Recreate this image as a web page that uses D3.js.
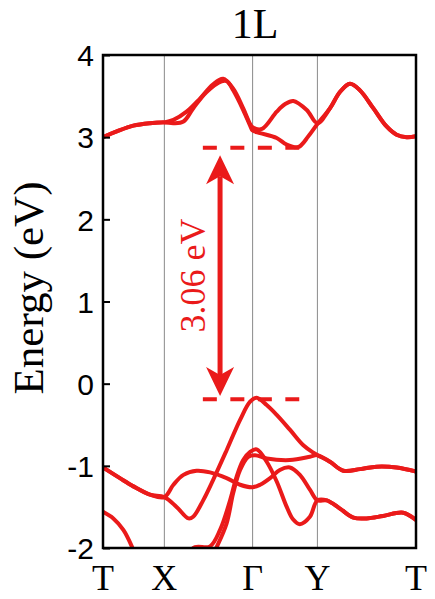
<!DOCTYPE html>
<html>
<head>
<meta charset="utf-8">
<script src="https://cdn.jsdelivr.net/npm/d3@7"></script>
<style>
  html, body { margin: 0; padding: 0; background: #fff; }
  svg { display: block; }
</style>
</head>
<body>
<svg id="chart" width="435" height="599"></svg>
<script>
// ---------------- data ----------------
const title = "1L";
const kPoints = [0, 0.196, 0.478, 0.685, 1];
const kLabels = ["T", "X", "Γ", "Y", "T"];
const yTicks = [-2, -1, 0, 1, 2, 3, 4];
const yTickLabels = ["-2", "-1", "0", "1", "2", "3", "4"];
const yLabel = "Energy (eV)";

// conduction bands  [k, E]
const cbA = [[0,3.00],[0.044,3.07],[0.097,3.14],[0.150,3.17],[0.196,3.18],[0.225,3.17],[0.257,3.19],
  [0.288,3.35],[0.331,3.55],[0.379,3.68],[0.396,3.68],[0.416,3.57],[0.448,3.33],[0.470,3.14],[0.478,3.08],
  [0.502,3.05],[0.555,2.99],[0.587,2.91],[0.624,2.88],[0.656,3.01],[0.685,3.16],
  [0.725,3.35],[0.757,3.55],[0.789,3.65],[0.821,3.57],[0.864,3.35],[0.906,3.13],[0.938,3.03],[0.970,3.00],[1,3.01]];
const cbB = [[0,3.00],[0.044,3.07],[0.097,3.14],[0.150,3.17],[0.196,3.18],[0.225,3.21],[0.267,3.31],
  [0.310,3.47],[0.351,3.64],[0.384,3.71],[0.416,3.59],[0.448,3.35],[0.470,3.16],[0.478,3.12],
  [0.508,3.10],[0.555,3.31],[0.581,3.40],[0.608,3.44],[0.651,3.33],[0.685,3.17],
  [0.725,3.35],[0.757,3.55],[0.789,3.65],[0.821,3.57],[0.864,3.35],[0.906,3.13],[0.938,3.03],[0.970,3.00],[1,3.01]];

// valence bands [k, E]
const vb1 = [[0,-1.02],[0.054,-1.15],[0.097,-1.25],[0.150,-1.35],[0.196,-1.38],[0.235,-1.50],[0.273,-1.64],
  [0.288,-1.62],[0.320,-1.42],[0.352,-1.17],[0.395,-0.81],[0.438,-0.44],[0.470,-0.22],[0.491,-0.17],
  [0.523,-0.26],[0.555,-0.38],[0.597,-0.56],[0.640,-0.75],[0.672,-0.84],[0.685,-0.87],
  [0.725,-0.95],[0.768,-1.06],[0.821,-1.04],[0.874,-1.01],[0.938,-1.02],[1,-1.07]];
const vb2 = [[0,-1.02],[0.054,-1.15],[0.097,-1.25],[0.150,-1.35],[0.196,-1.38],[0.225,-1.23],[0.257,-1.11],
  [0.299,-1.06],[0.342,-1.08],[0.395,-1.15],[0.438,-1.23],[0.478,-1.26],[0.502,-1.23],[0.534,-1.15],
  [0.565,-1.05],[0.597,-1.02],[0.629,-1.11],[0.661,-1.29],[0.685,-1.42],[0.715,-1.42],[0.757,-1.52],
  [0.800,-1.63],[0.842,-1.64],[0.895,-1.61],[0.959,-1.57],[1,-1.66]];
const vb3 = [[0.262,-2.10],[0.294,-1.99],[0.342,-1.98],[0.374,-1.78],[0.406,-1.42],[0.427,-1.13],
  [0.448,-0.93],[0.470,-0.83],[0.491,-0.80],[0.523,-0.95],[0.555,-1.19],[0.587,-1.50],[0.607,-1.65],
  [0.629,-1.71],[0.661,-1.62],[0.685,-1.42],[0.715,-1.42],[0.757,-1.52],[0.800,-1.63],[0.842,-1.64],
  [0.895,-1.61],[0.959,-1.57],[1,-1.66]];
const vb4 = [[0.342,-2.15],[0.363,-1.99],[0.395,-1.70],[0.416,-1.33],[0.438,-1.05],[0.464,-0.89],
  [0.486,-0.87],[0.523,-0.91],[0.597,-0.93],[0.661,-0.89],[0.685,-0.87],
  [0.725,-0.95],[0.768,-1.06],[0.821,-1.04],[0.874,-1.01],[0.938,-1.02],[1,-1.07]];
const vb5 = [[0,-1.56],[0.033,-1.64],[0.065,-1.78],[0.092,-1.98],[0.109,-2.15]];

const bands = [cbA, cbB, vb1, vb2, vb3, vb4, vb5];

// gap annotation
const gapCBM = 2.87, gapVBM = -0.19;
const gapRangeK = [0.319, 0.627];
const arrowK = 0.374;
const arrowEnds = [2.78, -0.15];
const gapLabel = "3.06 eV";

// ---------------- drawing ----------------
const red = "#ea1a1a";
const serif = "'Liberation Serif', 'Times New Roman', serif";
const svg = d3.select("#chart");
const L = 103, R = 416, T = 55, B = 548;
const x = d3.scaleLinear().domain([0, 1]).range([L, R]);
const y = d3.scaleLinear().domain([-2, 4]).range([B, T]);

svg.append("defs").append("clipPath").attr("id", "clip")
  .append("rect").attr("x", L).attr("y", T).attr("width", R - L).attr("height", B - T);

// high-symmetry vertical lines
svg.append("g").selectAll("line").data(kPoints.slice(1, -1)).join("line")
  .attr("x1", d => x(d)).attr("x2", d => x(d)).attr("y1", T).attr("y2", B)
  .attr("stroke", "#8a8a8a").attr("stroke-width", 1);

// bands
const line = d3.line().x(d => x(d[0])).y(d => y(d[1])).curve(d3.curveCatmullRom.alpha(0.5));
svg.append("g").attr("clip-path", "url(#clip)").selectAll("path").data(bands).join("path")
  .attr("d", line).attr("fill", "none").attr("stroke", red)
  .attr("stroke-width", 4).attr("stroke-linejoin", "round").attr("stroke-linecap", "round");

// frame
svg.append("rect").attr("x", L).attr("y", T).attr("width", R - L).attr("height", B - T)
  .attr("fill", "none").attr("stroke", "#000").attr("stroke-width", 2.5);

// y axis
const yAxis = d3.axisLeft(y).tickValues(yTicks).tickFormat((d, i) => yTickLabels[i])
  .tickSizeInner(-7).tickSizeOuter(0).tickPadding(9);
const ga = svg.append("g").attr("transform", `translate(${L},0)`).call(yAxis);
ga.select(".domain").remove();
ga.selectAll(".tick line").attr("stroke", "#000").attr("stroke-width", 2);
ga.selectAll(".tick text").attr("font-family", "'Liberation Sans', Arial, sans-serif")
  .attr("font-size", 30).attr("fill", "#000").attr("dy", "0.36em").attr("x", -9);

// x labels
svg.append("g").selectAll("text").data(kPoints).join("text")
  .attr("x", d => x(d)).attr("y", 590).attr("text-anchor", "middle")
  .attr("font-family", serif).attr("font-size", 36)
  .text((d, i) => kLabels[i]);

// title
svg.append("text").attr("x", 255).attr("y", 38).attr("text-anchor", "middle")
  .attr("font-family", serif).attr("font-size", 42)
  .text(title);

// y label
svg.append("text").attr("transform", "translate(43,288) rotate(-90)").attr("text-anchor", "middle")
  .attr("font-family", serif).attr("font-size", 43)
  .text(yLabel);

// dashed gap lines
svg.append("g").selectAll("line").data([gapCBM, gapVBM]).join("line")
  .attr("x1", x(gapRangeK[0])).attr("x2", x(gapRangeK[1]))
  .attr("y1", d => y(d)).attr("y2", d => y(d))
  .attr("stroke", red).attr("stroke-width", 4).attr("stroke-dasharray", "14,13.5");

// double arrow
const ax = x(arrowK), yTop = y(arrowEnds[0]), yBot = y(arrowEnds[1]);
const headL = 29, headW = 14, notch = 21;
svg.append("line").attr("x1", ax).attr("x2", ax).attr("y1", yTop + notch).attr("y2", yBot - notch)
  .attr("stroke", red).attr("stroke-width", 5);
svg.append("path").attr("fill", red)
  .attr("d", `M${ax},${yTop} L${ax + headW},${yTop + headL} L${ax},${yTop + notch} L${ax - headW},${yTop + headL} Z`);
svg.append("path").attr("fill", red)
  .attr("d", `M${ax},${yBot} L${ax + headW},${yBot - headL} L${ax},${yBot - notch} L${ax - headW},${yBot - headL} Z`);

// gap label
svg.append("text").attr("transform", `translate(205,${(yTop + yBot) / 2}) rotate(-90)`)
  .attr("text-anchor", "middle").attr("fill", red)
  .attr("font-family", serif).attr("font-size", 36)
  .text(gapLabel);
</script>
</body>
</html>
